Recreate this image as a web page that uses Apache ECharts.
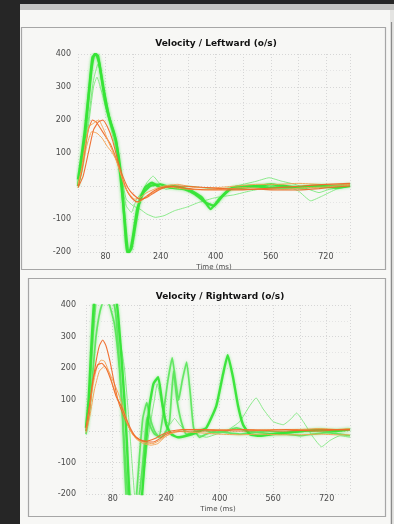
<!DOCTYPE html>
<html>
<head>
<meta charset="utf-8">
<script src="https://cdn.jsdelivr.net/npm/echarts@6/dist/echarts.min.js"></script>
<style>
  html, body { margin: 0; padding: 0; background: #262626; }
  #chart { width: 394px; height: 524px; }
</style>
</head>
<body>
<div id="chart"></div>
<script>
// Axis ticks (ms and deg/s)
const xTickLabels = [80, 240, 400, 560, 720];
const yTickLabels = [-200, -100, 100, 200, 300, 400];

// Leftward velocity traces: [time ms, velocity deg/s]
const leftGreenA = [[0,0],[10,70],[20,150],[30,260],[40,360],[48,400],[58,395],[68,330],[80,250],[95,190],[110,140],[120,60],[130,-40],[140,-150],[146,-200],[155,-190],[165,-130],[180,-40],[195,-5],[215,10],[240,-5],[270,0],[300,-5],[330,-15],[360,-35],[385,-70],[410,-40],[440,-10],[480,-5],[520,0],[560,5],[600,0],[650,-5],[700,0],[750,-5],[790,0]];
const leftGreenB = [[0,20],[10,90],[20,170],[32,290],[42,390],[52,400],[62,370],[75,290],[90,210],[105,160],[118,90],[128,0],[136,-120],[142,-200],[150,-200],[160,-150],[172,-70],[190,-20],[210,0],[240,5],[270,-5],[310,-10],[340,-25],[370,-50],[395,-60],[420,-30],[450,-5],[500,0],[560,-5],[620,-5],[680,0],[740,0],[790,5]];
const leftGreenC = [[0,-5],[15,60],[30,180],[45,300],[55,330],[70,280],[90,200],[110,110],[125,20],[140,-60],[155,-80],[170,-40],[185,-20],[200,10],[218,30],[235,10],[255,-10],[280,-5],[320,0],[360,-5],[400,-10],[440,-5],[480,5],[520,15],[555,25],[590,15],[630,5],[670,-10],[700,-20],[730,-10],[760,-5],[790,5]];
const leftGreenD = [[0,0],[15,80],[30,200],[45,320],[58,370],[70,320],[90,220],[110,130],[125,40],[140,-40],[160,-60],[180,-70],[200,-85],[225,-95],[250,-90],[280,-75],[316,-64],[350,-50],[400,-35],[452,-27],[500,-15],[550,-5],[600,0],[640,-15],[676,-45],[710,-30],[750,-10],[790,0]];
const leftOrangeA = [[0,0],[10,40],[20,110],[30,170],[42,200],[52,195],[65,175],[80,150],[95,125],[110,85],[125,35],[140,-10],[155,-35],[170,-48],[185,-42],[200,-30],[220,-15],[240,-5],[270,0],[300,-5],[340,-10],[400,-12],[460,-12],[520,-10],[580,-12],[640,-12],[700,-8],[750,-3],[790,0]];
const leftOrangeB = [[0,5],[10,50],[20,120],[32,180],[45,190],[60,200],[75,170],[90,130],[105,95],[120,50],[135,0],[150,-25],[165,-40],[180,-35],[200,-20],[225,-8],[250,0],[290,5],[340,-5],[400,-5],[460,0],[520,5],[580,5],[640,8],[700,5],[750,3],[790,5]];
const leftOrangeC = [[0,0],[12,50],[25,120],[40,165],[55,160],[70,145],[85,120],[100,100],[115,70],[130,20],[145,-20],[160,-40],[175,-50],[190,-40],[210,-25],[235,-10],[260,-3],[300,-8],[360,-12],[420,-10],[480,-5],[540,-8],[600,-10],[660,-5],[720,-3],[790,2]];
const leftOrangeD = [[0,-5],[15,30],[30,100],[45,170],[60,195],[72,200],[85,180],[100,140],[115,80],[130,30],[145,-5],[160,-25],[180,-40],[200,-35],[225,-18],[250,-5],[290,0],[350,-3],[420,-8],[500,-10],[580,-5],[650,0],[720,5],[790,8]];

// Rightward velocity traces: [time ms, velocity deg/s]
const rightGreenA = [[0,0],[8,90],[16,220],[24,360],[32,450],[45,480],[60,470],[75,450],[88,380],[98,250],[108,80],[116,-120],[124,-260],[140,-300],[150,-220],[160,-80],[170,40],[182,90],[192,40],[205,0],[218,-20],[232,60],[245,160],[258,232],[268,160],[277,98],[288,160],[301,219],[312,120],[322,10],[340,-20],[360,-10],[390,0],[420,-5],[460,-10],[500,-5],[540,0],[600,-5],[660,0],[720,0],[790,5]];
const rightGreenB = [[0,10],[8,100],[15,250],[22,380],[30,460],[50,500],[70,490],[85,450],[95,380],[105,250],[115,100],[122,-30],[130,-200],[140,-280],[150,-300],[160,-260],[168,-200],[178,-60],[190,80],[202,150],[216,171],[228,90],[240,20],[255,-10],[275,-20],[300,-15],[330,-5],[360,10],[390,80],[410,180],[424,241],[440,170],[455,80],[470,20],[490,-10],[520,-15],[560,-10],[600,-5],[650,0],[700,5],[750,0],[790,5]];
const rightGreenC = [[0,20],[10,120],[20,280],[30,400],[40,460],[60,470],[80,420],[100,300],[115,200],[125,80],[135,-60],[145,-200],[155,-260],[165,-230],[175,-120],[185,-30],[195,40],[205,100],[213,150],[222,110],[235,40],[250,20],[265,40],[280,20],[300,0],[330,-10],[360,-20],[390,-10],[420,0],[460,30],[490,80],[509,105],[530,70],[560,30],[590,20],[615,40],[630,57],[650,30],[680,-20],[705,-50],[730,-30],[760,-15],[790,-20]];
const rightGreenD = [[0,-10],[10,60],[20,180],[30,300],[42,380],[55,420],[70,400],[85,340],[100,200],[110,40],[118,-100],[125,-200],[135,-280],[150,-260],[160,-200],[170,-100],[178,0],[183,45],[190,20],[205,-10],[225,-20],[240,0],[250,30],[262,190],[272,100],[285,30],[300,-10],[320,-5],[350,5],[380,-5],[420,0],[450,10],[480,0],[520,-5],[560,-10],[600,-10],[640,-15],[680,-10],[720,-5],[760,-10],[790,-15]];
const rightOrangeA = [[0,0],[10,60],[20,150],[30,220],[40,270],[50,289],[60,270],[72,220],[85,150],[95,100],[108,60],[122,25],[140,-10],[162,-28],[185,-35],[202,-35],[220,-25],[240,-10],[262,-3],[290,0],[340,0],[400,2],[460,0],[520,2],[580,0],[640,2],[700,0],[750,3],[790,3]];
const rightOrangeB = [[0,5],[10,70],[20,140],[32,200],[45,225],[55,222],[68,190],[82,140],[95,100],[110,65],[125,20],[142,-15],[160,-30],[180,-38],[200,-40],[220,-30],[240,-15],[260,-5],[290,5],[340,5],[400,3],[460,5],[520,3],[580,5],[640,5],[700,8],[750,5],[790,8]];
const rightOrangeC = [[0,-5],[12,50],[25,130],[40,190],[55,205],[70,185],[85,150],[100,110],[115,60],[130,10],[150,-25],[172,-40],[195,-45],[215,-40],[235,-20],[255,-8],[280,-2],[330,-5],[400,-10],[460,-12],[520,-10],[580,-12],[640,-12],[700,-10],[750,-12],[790,-12]];
const rightOrangeD = [[0,10],[10,80],[22,170],[35,210],[47,215],[60,200],[75,160],[90,110],[105,80],[120,40],[135,5],[150,-20],[170,-32],[190,-30],[210,-22],[230,-10],[255,0],[290,5],[350,5],[410,3],[470,5],[530,3],[600,5],[660,3],[720,5],[790,5]];

const glow = { shadowBlur: 3, shadowColor: 'rgba(70,230,70,0.55)' };
const styles = {
  greenThick: Object.assign({ color: '#36e436', width: 2.4 }, glow),
  greenMid:   Object.assign({ color: '#5ee65e', width: 1.7 }, glow),
  greenThin:  { color: '#86e986', width: 1 },
  orange:     { color: '#ef6a2a', width: 1.1 },
  orangeLt:   { color: '#f4a253', width: 1 }
};

function trace(data, idx, style) {
  return {
    type: 'line', xAxisIndex: idx, yAxisIndex: idx, data: data,
    symbol: 'none', smooth: 0.15, clip: true, silent: true,
    lineStyle: Object.assign({ opacity: 0.95 }, style)
  };
}

const series = [
  trace(leftGreenC, 0, styles.greenThin),
  trace(leftGreenD, 0, styles.greenThin),
  trace(leftGreenA, 0, styles.greenThick),
  trace(leftGreenB, 0, styles.greenThick),
  trace(leftOrangeC, 0, styles.orangeLt),
  trace(leftOrangeA, 0, styles.orange),
  trace(leftOrangeB, 0, styles.orangeLt),
  trace(leftOrangeD, 0, styles.orange),
  trace(rightGreenC, 1, styles.greenThin),
  trace(rightGreenD, 1, styles.greenMid),
  trace(rightGreenA, 1, styles.greenMid),
  trace(rightGreenB, 1, styles.greenThick),
  trace(rightOrangeC, 1, styles.orangeLt),
  trace(rightOrangeA, 1, styles.orange),
  trace(rightOrangeB, 1, styles.orangeLt),
  trace(rightOrangeD, 1, styles.orange)
];

const tickFont = { color: '#4a4a4a', fontSize: 8, fontFamily: 'DejaVu Sans' };

function xAxis(idx, margin) {
  return {
    type: 'value', gridIndex: idx, min: 0, max: 790, interval: 80,
    name: 'Time (ms)', nameLocation: 'middle', nameGap: 12,
    nameTextStyle: { color: '#4a4a4a', fontSize: 7, fontFamily: 'DejaVu Sans' },
    axisLine: { show: false }, axisTick: { show: false },
    axisLabel: Object.assign({
      margin: margin, showMinLabel: false, showMaxLabel: false,
      formatter: v => xTickLabels.includes(v) ? String(v) : ''
    }, tickFont),
    splitLine: { show: true, lineStyle: { color: '#d6d6d6', type: [1, 2], width: 1 } }
  };
}
function yAxis(idx, margin) {
  return {
    type: 'value', gridIndex: idx, min: -200, max: 400, interval: 100,
    axisLine: { show: false }, axisTick: { show: false },
    axisLabel: Object.assign({
      margin: margin,
      formatter: v => yTickLabels.includes(v) ? String(v) : ''
    }, tickFont),
    splitLine: { show: true, lineStyle: { color: '#d6d6d6', type: [1, 2], width: 1 } },
    minorTick: { show: false, splitNumber: 2 },
    minorSplitLine: { show: true, lineStyle: { color: '#e4e4e4', type: [1, 2], width: 1 } }
  };
}

const titleFont = { color: '#111', fontSize: 9, fontWeight: 'bold', fontFamily: 'DejaVu Sans' };

const chart = echarts.init(document.getElementById('chart'), null, { renderer: 'canvas' });
chart.setOption({
  animation: false,
  backgroundColor: '#262626',
  title: [
    { text: 'Velocity / Leftward (o/s)', left: 211, top: 34, textAlign: 'center', textStyle: titleFont },
    { text: 'Velocity / Rightward (o/s)', left: 215, top: 287, textAlign: 'center', textStyle: titleFont }
  ],
  graphic: [
    { type: 'rect', z: 0, shape: { x: 20, y: 10, width: 374, height: 514 }, style: { fill: '#f7f7f5' } },
    { type: 'rect', z: 0, shape: { x: 20, y: 4, width: 374, height: 6 }, style: { fill: '#c4c4c2' } },
    { type: 'rect', z: 0, shape: { x: 21.5, y: 27.5, width: 364, height: 242 }, style: { fill: 'none', stroke: '#a6a6a6', lineWidth: 1.2 } },
    { type: 'rect', z: 0, shape: { x: 28.5, y: 278.5, width: 357, height: 238 }, style: { fill: 'none', stroke: '#a6a6a6', lineWidth: 1.2 } },
    { type: 'rect', z: 0, shape: { x: 390, y: 10, width: 4, height: 514 }, style: { fill: '#e4e4e2' } },
    { type: 'line', z: 0, shape: { x1: 391.5, y1: 22, x2: 391.5, y2: 524 }, style: { stroke: '#8a8a8a', lineWidth: 1.2 } }
  ],
  grid: [
    { left: 78, right: 44, top: 54, bottom: 272, show: true, borderColor: '#d0d0d0', borderWidth: 1, backgroundColor: 'transparent' },
    { left: 86, right: 44, top: 305, bottom: 30, show: true, borderColor: '#d0d0d0', borderWidth: 1, backgroundColor: 'transparent' }
  ],
  xAxis: [xAxis(0, 1), xAxis(1, 1)],
  yAxis: [yAxis(0, 7), yAxis(1, 10)],
  series: series
});
</script>
</body>
</html>
